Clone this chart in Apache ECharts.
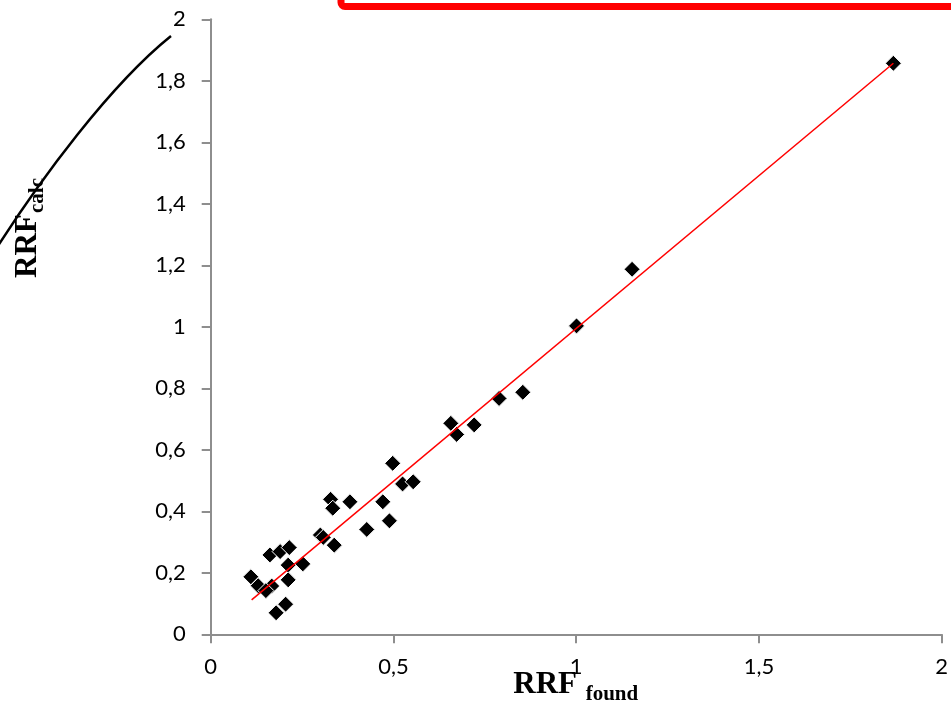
<!DOCTYPE html>
<html>
<head>
<meta charset="utf-8">
<script src="https://cdn.jsdelivr.net/npm/echarts@6/dist/echarts.min.js"></script>
<style>
html,body{margin:0;padding:0;background:#fff;}
#chart{width:951px;height:704px;}
</style>
</head>
<body>
<div id="chart"></div>
<script>
// RRF found (x) values
const rrfFound = [0.110, 0.130, 0.162, 0.190, 0.215, 0.212, 0.252, 0.212, 0.167, 0.151,
  0.205, 0.179, 0.300, 0.308, 0.338, 0.328, 0.334, 0.381, 0.427, 0.471,
  0.489, 0.498, 0.525, 0.554, 0.657, 0.673, 0.721, 0.789, 0.854, 1.001,
  1.153, 1.868];
// RRF calc (y) values
const rrfCalc = [0.187, 0.158, 0.258, 0.269, 0.282, 0.225, 0.229, 0.177, 0.157, 0.142,
  0.098, 0.070, 0.323, 0.315, 0.290, 0.439, 0.410, 0.431, 0.341, 0.431,
  0.369, 0.556, 0.489, 0.496, 0.686, 0.650, 0.681, 0.767, 0.787, 1.003,
  1.187, 1.857];
// Trend line end points
const trendX = [0.112, 1.868];
const trendY = [0.112, 1.857];
// Axis ticks
const xTicks = [0, 0.5, 1, 1.5, 2];
const yTicks = [0, 0.2, 0.4, 0.6, 0.8, 1, 1.2, 1.4, 1.6, 1.8, 2];

const points = rrfFound.map((x, i) => [x, rrfCalc[i]]);
const trend = trendX.map((x, i) => [x, trendY[i]]);
const fmt = v => String(v).replace('.', ',');

const axisColor = '#8e8e8e';
const labelFont = 'Lato';

const chart = echarts.init(document.getElementById('chart'), null, {renderer: 'canvas'});
chart.setOption({
  backgroundColor: '#ffffff',
  animation: false,
  grid: {left: 210.7, right: 9.3, top: 19.3, bottom: 69.7, containLabel: false},
  xAxis: {
    type: 'value', min: xTicks[0], max: xTicks[xTicks.length - 1], interval: 0.5,
    axisLine: {show: true, onZero: false, lineStyle: {color: axisColor, width: 2}},
    axisTick: {show: true, length: 9, lineStyle: {color: axisColor, width: 2}},
    splitLine: {show: false},
    axisLabel: {formatter: fmt, color: '#000', fontFamily: labelFont, fontSize: 22, margin: 22}
  },
  yAxis: {
    type: 'value', min: yTicks[0], max: yTicks[yTicks.length - 1], interval: 0.2,
    axisLine: {show: true, onZero: false, lineStyle: {color: axisColor, width: 2}},
    axisTick: {show: true, length: 9, lineStyle: {color: axisColor, width: 2}},
    splitLine: {show: false},
    axisLabel: {formatter: fmt, color: '#000', fontFamily: labelFont, fontSize: 22, margin: 25}
  },
  series: [
    {
      type: 'line', data: trend, symbol: 'none', z: 3,
      lineStyle: {color: '#ff0000', width: 1.5}
    },
    {
      type: 'scatter', data: points, symbol: 'diamond', symbolSize: 16, z: 2,
      itemStyle: {color: '#000', opacity: 1, borderColor: '#fff', borderWidth: 1}
    }
  ],
  graphic: [
    {type: 'rect', shape: {x: 341, y: -40, width: 700, height: 46.5, r: 4},
     style: {fill: null, stroke: '#ff0000', lineWidth: 7}},
    {type: 'bezierCurve', shape: {x1: -4, y1: 249, x2: 171, y2: 36, cpx1: 40, cpy1: 180, cpx2: 110, cpy2: 85},
     style: {fill: null, stroke: '#000', lineWidth: 2.5}},
    {type: 'text', x: 513.3, y: 684.5,
     style: {text: 'RRF', font: 'bold 31px "Liberation Serif"', fill: '#000', align: 'left', verticalAlign: 'middle'}},
    {type: 'text', x: 585.7, y: 694.6,
     style: {text: 'found', font: 'bold 21px "Liberation Serif"', fill: '#000', align: 'left', verticalAlign: 'middle'}},
    {type: 'text', x: 27.8, y: 278, rotation: Math.PI / 2,
     style: {text: 'RRF', font: 'bold 31px "Liberation Serif"', fill: '#000', align: 'left', verticalAlign: 'middle'}},
    {type: 'text', x: 38, y: 213, rotation: Math.PI / 2,
     style: {text: 'calc', font: 'bold 21px "Liberation Serif"', fill: '#000', align: 'left', verticalAlign: 'middle'}}
  ]
});
</script>
</body>
</html>
